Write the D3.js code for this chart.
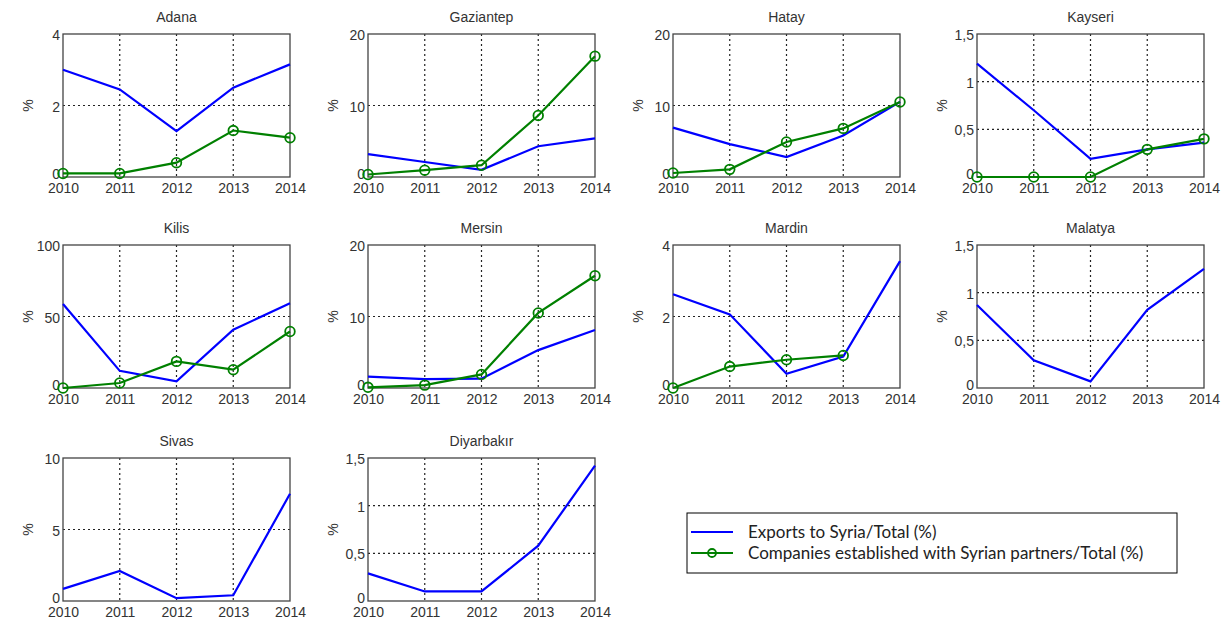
<!DOCTYPE html>
<html>
<head>
<meta charset="utf-8">
<script src="https://cdn.jsdelivr.net/npm/d3@7"></script>
<style>
  body { margin: 0; background: #fff; }
  svg { display: block; }
</style>
</head>
<body>
<svg id="chart"></svg>
<script>
let width = 1228, height = 625;

// data
const years = [2010, 2011, 2012, 2013, 2014];
const cities = ["Adana", "Gaziantep", "Hatay", "Kayseri", "Kilis", "Mersin", "Mardin", "Malatya", "Sivas", "Diyarbakır"];
const yMax = [4, 20, 20, 1.5, 100, 20, 4, 1.5, 10, 1.5];
const yTicks = [[0, 2, 4], [0, 10, 20], [0, 10, 20], [0, 0.5, 1, 1.5], [0, 50, 100], [0, 10, 20], [0, 2, 4], [0, 0.5, 1, 1.5], [0, 5, 10], [0, 0.5, 1, 1.5]];
const exportsShare = [
  [3.0, 2.45, 1.28, 2.5, 3.15],
  [3.2, 2.1, 1.0, 4.3, 5.4],
  [6.9, 4.6, 2.8, 5.8, 10.5],
  [1.19, 0.7, 0.19, 0.29, 0.36],
  [58.8, 12, 4.7, 40.7, 59.3],
  [1.6, 1.25, 1.3, 5.3, 8.1],
  [2.62, 2.06, 0.4, 0.88, 3.55],
  [0.87, 0.29, 0.07, 0.82, 1.25],
  [0.85, 2.1, 0.2, 0.4, 7.5],
  [0.29, 0.1, 0.1, 0.58, 1.42]
];
const companiesShare = [
  [0.1, 0.1, 0.4, 1.3, 1.1],
  [0.35, 0.95, 1.65, 8.6, 16.9],
  [0.56, 1.07, 4.9, 6.8, 10.5],
  [0, 0, 0, 0.29, 0.4],
  [0, 3.5, 18.6, 12.8, 39.5],
  [0.1, 0.4, 1.9, 10.5, 15.7],
  [0, 0.6, 0.79, 0.91, null],
  null, null, null
];
const legendLabels = ["Exports to Syria/Total (%)", "Companies established with Syrian partners/Total (%)"];

const colLeft = [63, 368, 673, 977];
const rowTop = [34, 245, 458];
const pw = 227, ph = 143;
const axisFont = "14px 'Liberation Sans', Arial, sans-serif";

const fmt = d3.formatLocale({decimal: ",", thousands: ".", grouping: [3], currency: ["", ""]}).format("~g");

let svg = d3.select("#chart").attr("width", width).attr("height", height);

cities.forEach((city, i) => {
  let left = colLeft[i % 4], top = rowTop[Math.floor(i / 4)];
  let g = svg.append("g").attr("transform", "translate(" + left + "," + top + ")");

  let x = d3.scaleLinear().domain([2010, 2014]).range([0, pw]);
  let y = d3.scaleLinear().domain([0, yMax[i]]).range([ph, 0]);

  // dotted grid
  g.selectAll(".gx").data(years.slice(1, -1)).enter().append("line")
    .attr("x1", d => x(d)).attr("x2", d => x(d))
    .attr("y1", 0).attr("y2", ph)
    .attr("stroke", "#222").attr("stroke-width", 1.2).attr("stroke-dasharray", "2,3");
  g.selectAll(".gy").data(yTicks[i].slice(1, -1)).enter().append("line")
    .attr("x1", 0).attr("x2", pw)
    .attr("y1", d => y(d)).attr("y2", d => y(d))
    .attr("stroke", "#222").attr("stroke-width", 1.2).attr("stroke-dasharray", "2,3");

  // axes
  let xa = g.append("g").attr("transform", "translate(0," + ph + ")")
    .call(d3.axisBottom(x).tickValues(years).tickFormat(d3.format("d")).tickSize(0).tickPadding(6));
  let ya = g.append("g")
    .call(d3.axisLeft(y).tickValues(yTicks[i]).tickFormat(fmt).tickSize(0).tickPadding(3));
  [xa, ya].forEach(a => {
    a.select(".domain").remove();
    a.selectAll("text").attr("fill", "#333").style("font", axisFont);
  });
  ya.selectAll("text").attr("dy", d => d == 0 ? "0.1em" : "0.4em");

  // frame
  g.append("rect").attr("width", pw).attr("height", ph)
    .attr("fill", "none").attr("stroke", "#444").attr("stroke-width", 1.3);

  // title and y label
  g.append("text").attr("x", pw / 2).attr("y", -12).attr("text-anchor", "middle")
    .attr("fill", "#333").style("font", axisFont).text(city);
  g.append("text").attr("transform", "translate(-30," + (ph / 2) + ") rotate(-90)")
    .attr("text-anchor", "middle").attr("fill", "#333")
    .style("font", axisFont).text("%");

  let line = d3.line().defined(d => d != null).x((d, j) => x(years[j])).y(d => y(d));

  g.append("path").datum(exportsShare[i]).attr("d", line)
    .attr("fill", "none").attr("stroke", "#0000ff").attr("stroke-width", 2.2);

  if (companiesShare[i]) {
    g.append("path").datum(companiesShare[i]).attr("d", line)
      .attr("fill", "none").attr("stroke", "#008000").attr("stroke-width", 2.2);
    g.selectAll(".dot").data(companiesShare[i].map((v, j) => ({v: v, year: years[j]})).filter(d => d.v != null))
      .enter().append("circle")
      .attr("cx", d => x(d.year)).attr("cy", d => y(d.v)).attr("r", 4.8)
      .attr("fill", "none").attr("stroke", "#008000").attr("stroke-width", 1.8);
  }
});

// legend
let legend = svg.append("g").attr("transform", "translate(687,513)");
legend.append("rect").attr("width", 490).attr("height", 60)
  .attr("fill", "#fff").attr("stroke", "#000").attr("stroke-width", 1);
const legendColors = ["#0000ff", "#008000"];
legendLabels.forEach((label, k) => {
  let ly = 19 + k * 21;
  legend.append("line").attr("x1", 4).attr("x2", 46).attr("y1", ly).attr("y2", ly)
    .attr("stroke", legendColors[k]).attr("stroke-width", 2);
  if (k == 1) {
    legend.append("circle").attr("cx", 25).attr("cy", ly).attr("r", 4)
      .attr("fill", "none").attr("stroke", legendColors[k]).attr("stroke-width", 1.8);
  }
  legend.append("text").attr("x", 61).attr("y", ly).attr("dy", "0.35em")
    .attr("fill", "#222").style("font", "17px Lato, 'Open Sans', sans-serif").text(label);
});
</script>
</body>
</html>
